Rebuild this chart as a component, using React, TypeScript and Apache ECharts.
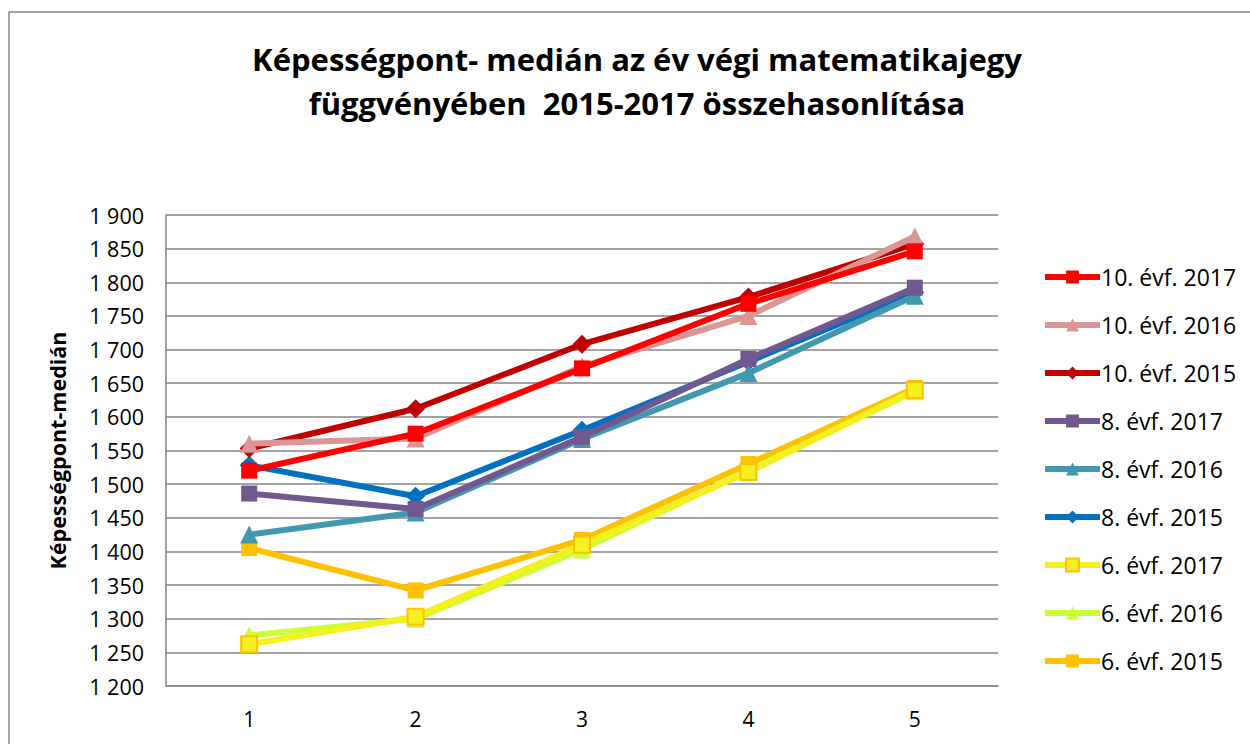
import React, { useEffect, useRef } from "react";
import * as echarts from "echarts";

const categories = ["1", "2", "3", "4", "5"];
const seriesNames = [
  "10. évf. 2017",
  "10. évf. 2016",
  "10. évf. 2015",
  "8. évf. 2017",
  "8. évf. 2016",
  "8. évf. 2015",
  "6. évf. 2017",
  "6. évf. 2016",
  "6. évf. 2015",
];
const v10_2017 = [1520, 1575, 1672, 1768, 1846];
const v10_2016 = [1560, 1568, 1675, 1750, 1868];
const v10_2015 = [1553, 1612, 1708, 1778, 1857];
const v8_2017 = [1486, 1463, 1570, 1686, 1792];
const v8_2016 = [1425, 1458, 1567, 1665, 1780];
const v8_2015 = [1528, 1482, 1580, 1682, 1785];
const v6_2017 = [1262, 1303, 1410, 1518, 1640];
const v6_2016 = [1275, 1300, 1403, 1520, 1638];
const v6_2015 = [1405, 1342, 1417, 1530, 1643];
const seriesValues = [v10_2017, v10_2016, v10_2015, v8_2017, v8_2016, v8_2015, v6_2017, v6_2016, v6_2015];

const colors = ["#FF0000", "#D99694", "#C00000", "#71588F", "#4198AF", "#0070C0", "#F5F01E", "#CCFF33", "#FFC000"];
const symbols = ["rect", "triangle", "diamond", "rect", "triangle", "diamond", "rect", "triangle", "rect"];
const borderColors = [null, null, null, null, null, null, "#FFC000", null, null];

const fmt = (v: number) => {
  const s = String(v);
  return s.length > 3 ? s.slice(0, s.length - 3) + " " + s.slice(-3) : s;
};

export default function App() {
  const ref = useRef<HTMLDivElement>(null);
  useEffect(() => {
    const chart = echarts.init(ref.current!, null, { renderer: "svg" });
    const font = "'Open Sans', sans-serif";
    chart.setOption({
      animation: false,
      backgroundColor: "#ffffff",
      title: {
        text: "Képességpont- medián az év végi matematikajegy\nfüggvényében  2015-2017 összehasonlítása",
        left: 637,
        textAlign: "center",
        top: 37,
        padding: 0,
        textStyle: { fontFamily: font, fontSize: 31, fontWeight: "bold", color: "#000", lineHeight: 44 },
      },
      graphic: [
        {
          type: "polyline",
          shape: { points: [[9, 744], [9, 12], [1250, 12]] },
          style: { stroke: "#868686", lineWidth: 1.5, fill: "none" },
        },
      ],
      legend: {
        orient: "vertical",
        left: 1037,
        top: 257,
        itemWidth: 55,
        itemHeight: 16,
        itemGap: 18,
        data: seriesNames,
        lineStyle: { width: 6 },
        textStyle: { fontFamily: font, fontSize: 23, color: "#000", padding: [0, 0, 0, -4], lineHeight: 30 },
      },
      grid: { left: 166, right: 252, top: 215, bottom: 58 },
      xAxis: {
        type: "category",
        data: categories,
        boundaryGap: true,
        axisLine: { lineStyle: { color: "#868686", width: 1.5 } },
        axisTick: { show: false },
        axisLabel: { fontFamily: font, fontSize: 21, color: "#000", margin: 22 },
      },
      yAxis: {
        type: "value",
        min: 1200,
        max: 1900,
        interval: 50,
        name: "Képességpont-medián",
        nameLocation: "middle",
        nameGap: 98,
        nameTextStyle: { fontFamily: font, fontSize: 21.5, fontWeight: "bold", color: "#000" },
        axisLine: { show: true, lineStyle: { color: "#868686", width: 1.5 } },
        axisTick: { show: false },
        splitLine: { lineStyle: { color: "#868686", width: 1.5 } },
        axisLabel: { fontFamily: font, fontSize: 21.5, color: "#000", margin: 22, formatter: (v: number) => fmt(v) },
      },
      series: seriesNames.map((name, i) => ({
        name,
        type: "line",
        data: seriesValues[i],
        symbol: symbols[i],
        symbolSize: symbols[i] === "diamond" ? 19 : symbols[i] === "triangle" ? 18 : 16,
        lineStyle: { color: colors[i], width: 6 },
        itemStyle: {
          color: colors[i],
          borderColor: borderColors[i] || colors[i],
          borderWidth: borderColors[i] ? 2 : 0,
        },
        z: 10 - i,
      })),
    });
    return () => chart.dispose();
  }, []);
  return <div ref={ref} style={{ position: "fixed", left: 0, top: 0, width: 1250, height: 744 }} />;
}
